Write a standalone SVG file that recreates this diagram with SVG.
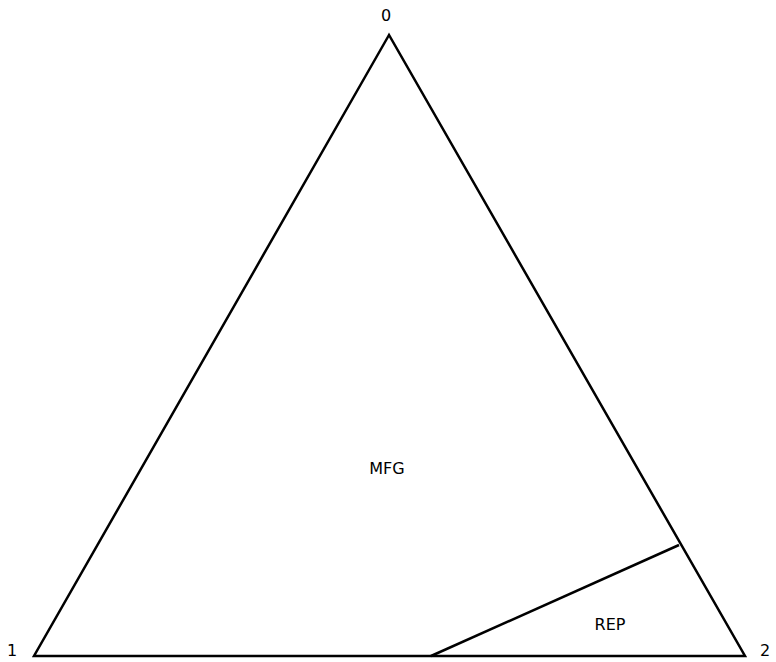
<svg xmlns="http://www.w3.org/2000/svg" width="776" height="662" viewBox="0 0 776 662">
<style>
.l{fill:none;stroke:#000;stroke-width:2.5;stroke-linejoin:miter}
.t{font-family:"DejaVu Sans","Liberation Sans",sans-serif;font-size:16px;fill:#000;text-anchor:middle}
</style>
<rect width="776" height="662" fill="#fff"/>
<g id="edges">
<polygon class="l" points="389,35 34,656 745,656"/>
<line class="l" x1="679" y1="545" x2="431" y2="656"/>
</g>
<g id="v0"><text class="t" x="386" y="21">0</text></g>
<g id="v1"><text class="t" x="12" y="656">1</text></g>
<g id="v2"><text class="t" x="765" y="656">2</text></g>
<g id="mfg"><text class="t" x="387" y="474">MFG</text></g>
<g id="rep"><text class="t" x="610" y="630">REP</text></g>
</svg>
